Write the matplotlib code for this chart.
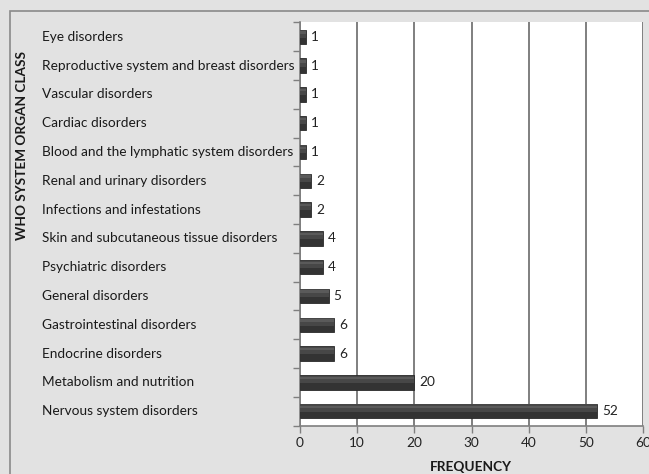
import matplotlib.pyplot as plt
import matplotlib.transforms as mtransforms

categories = [
    "Eye disorders",
    "Reproductive system and breast disorders",
    "Vascular disorders",
    "Cardiac disorders",
    "Blood and the lymphatic system disorders",
    "Renal and urinary disorders",
    "Infections and infestations",
    "Skin and subcutaneous tissue disorders",
    "Psychiatric disorders",
    "General disorders",
    "Gastrointestinal disorders",
    "Endocrine disorders",
    "Metabolism and nutrition",
    "Nervous system disorders",
]
frequency = [1, 1, 1, 1, 1, 2, 2, 4, 4, 5, 6, 6, 20, 52]
xticks = [0, 10, 20, 30, 40, 50, 60]

plt.rcParams['font.family'] = ['Lato', 'DejaVu Sans']

fig = plt.figure(figsize=(6.49, 4.74), dpi=100)
fig.patch.set_facecolor('#e2e2e2')
ax = fig.add_axes([300 / 649, 1 - 425.5 / 474, 343 / 649, 403 / 474])
ax.set_facecolor('white')

# outer frame like the spreadsheet chart area
frame = plt.Rectangle((10 / 649, -0.05), 1.0, 1 - 11 / 474 + 0.05,
                      transform=fig.transFigure, fill=False,
                      edgecolor='#8a8a8a', lw=1.2, zorder=0)
fig.patches.append(frame)

y = list(range(len(categories)))
ax.barh(y, frequency, height=0.5, color='#333333', edgecolor='#2a2a2a',
        lw=0.6, zorder=3)
# softer shading on upper part of bars
ax.barh([v - 0.1 for v in y], frequency, height=0.26, color='#474747',
        lw=0, zorder=4)
ax.barh([v - 0.15 for v in y], frequency, height=0.08, color='#5a5a5a',
        lw=0, zorder=4)

for yi, v in zip(y, frequency):
    ax.text(v + 0.9, yi, str(v), va='center', ha='left', fontsize=9.8,
            color='#222222', zorder=5)

ax.set_xlim(0, 60)
ax.set_ylim(len(categories) - 0.5, -0.5)
ax.set_xticks(xticks)
ax.set_xticklabels([str(t) for t in xticks], fontsize=9.8, color='#222222')
ax.xaxis.grid(True, color='#7f7f7f', lw=1.4)
ax.set_axisbelow(True)

ax.set_yticks([i - 0.5 for i in range(len(categories) + 1)])
ax.set_yticklabels([])
ax.tick_params(axis='y', length=5, width=1, color='#7f7f7f', direction='out')
ax.tick_params(axis='x', length=5, width=1, color='#7f7f7f', direction='out',
               pad=3)

for side in ['top', 'right']:
    ax.spines[side].set_visible(False)
for side in ['left', 'bottom']:
    ax.spines[side].set_color('#7f7f7f')
    ax.spines[side].set_linewidth(1.2)

trans = mtransforms.blended_transform_factory(fig.transFigure, ax.transData)
for yi, name in zip(y, categories):
    ax.text(42 / 649, yi, name, transform=trans, ha='left', va='center',
            fontsize=9.8, color='#1a1a1a')

fig.text(22 / 649, 1 - 146 / 474, "WHO SYSTEM ORGAN CLASS", rotation=90,
         ha='center', va='center', fontsize=9.8, fontweight='bold',
         color='#1a1a1a')
fig.text(471 / 649, 1 - 467 / 474, "FREQUENCY", ha='center', va='center',
         fontsize=9.8, fontweight='bold', color='#1a1a1a')

fig.savefig('out.png', dpi=100, facecolor=fig.get_facecolor())
